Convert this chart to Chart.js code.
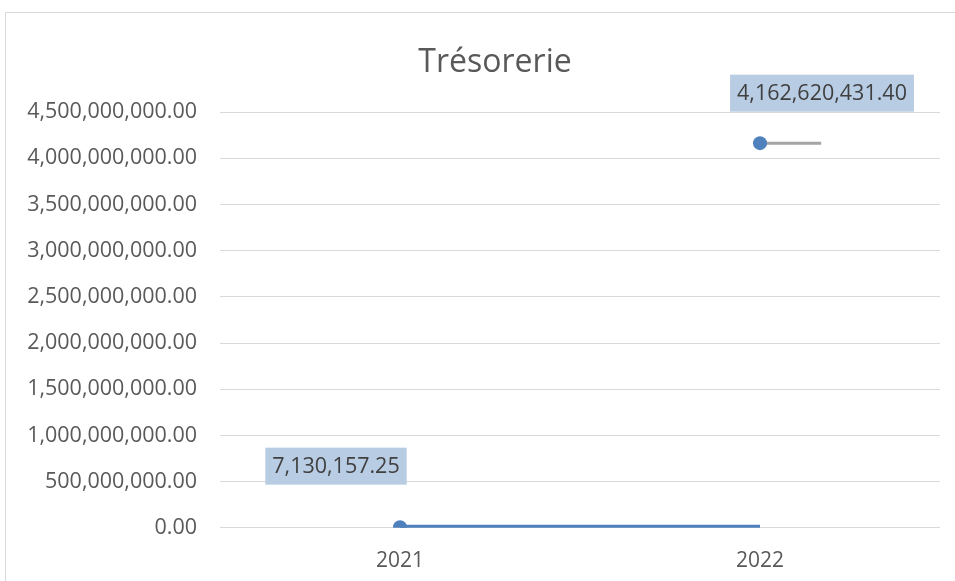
<!DOCTYPE html>
<html>
<head>
<meta charset="utf-8">
<title>Trésorerie</title>
<script src="https://cdn.jsdelivr.net/npm/chart.js"></script>
<style>
  html, body { margin: 0; padding: 0; background: #fff; overflow: hidden; width: 955px; height: 581px; }
  #cadre { position: absolute; left: 5px; top: 12px; width: 1000px; height: 600px; border: 1px solid #d9d9d9; }
  #graphe { position: absolute; left: 0; top: 0; }
  #titre { position: absolute; left: 0; top: 41px; width: 990px; text-align: center;
           font: 32px/38px "Open Sans", sans-serif; color: #595959; z-index: 2; }
</style>
</head>
<body>
<div id="cadre"></div>
<canvas id="graphe" width="955" height="603"></canvas>
<div id="titre">Trésorerie</div>
<script>
// données
const annees = [2021, 2022];
const tresorerieBas = [7130157.25, 7130157.25];
const tresorerieHaut = [4162620431.40];
const repereHaut = [2022, 2022.17];
const etiquettes = ['7,130,157.25', '4,162,620,431.40'];

const bleu = '#4f81bd';
const police = '"Open Sans", sans-serif';
const fmt = v => v.toLocaleString('en-US', { minimumFractionDigits: 2, maximumFractionDigits: 2 });

// étiquettes de données façon Excel
const etiquettesPlugin = {
  id: 'etiquettes',
  afterDatasetsDraw(chart) {
    const ctx = chart.ctx;
    const cibles = [
      { ds: 0, i: 0, texte: etiquettes[0], dx: -64, dy: -61 },
      { ds: 1, i: 0, texte: etiquettes[1], dx: 62, dy: -50 }
    ];
    ctx.save();
    ctx.font = '21.5px ' + police;
    ctx.textAlign = 'center';
    ctx.textBaseline = 'middle';
    for (const c of cibles) {
      const pt = chart.getDatasetMeta(c.ds).data[c.i];
      const x = pt.x + c.dx, y = pt.y + c.dy;
      const w = ctx.measureText(c.texte).width + 14;
      ctx.fillStyle = '#b8cce4';
      ctx.fillRect(x - w / 2, y - 18.5, w, 37);
      ctx.fillStyle = '#404040';
      ctx.fillText(c.texte, x, y + 1);
    }
    ctx.restore();
  }
};

new Chart(document.getElementById('graphe'), {
  type: 'line',
  data: {
    datasets: [
      {
        label: 'Trésorerie',
        data: annees.map((a, i) => ({ x: a, y: tresorerieBas[i] })),
        borderColor: bleu,
        backgroundColor: bleu,
        borderWidth: 5,
        pointRadius: [7, 0],
        pointHoverRadius: [7, 0],
        pointBorderWidth: 0
      },
      {
        label: 'Trésorerie 2022',
        data: repereHaut.map(a => ({ x: a, y: tresorerieHaut[0] })),
        borderColor: '#a5a5a5',
        backgroundColor: bleu,
        borderWidth: 3,
        pointRadius: [7, 0],
        pointBorderWidth: 0,
        order: -1
      }
    ]
  },
  options: {
    responsive: false,
    animation: false,
    layout: { padding: { left: 0, right: 15, top: 112, bottom: 8 } },
    plugins: {
      legend: { display: false },
      tooltip: { enabled: false },
      title: { display: false }
    },
    scales: {
      x: {
        type: 'linear',
        min: 2020.5,
        max: 2022.5,
        afterBuildTicks: s => { s.ticks = annees.map(v => ({ value: v })); },
        grid: { display: false, drawTicks: false },
        border: { display: false },
        ticks: {
          callback: v => String(v),
          color: '#595959',
          font: { family: police, size: 21 },
          padding: 21,
          maxRotation: 0
        }
      },
      y: {
        min: 0,
        max: 4500000000,
        afterFit: s => { s.width = 220; },
        grid: { color: '#d9d9d9', lineWidth: 1, drawTicks: false },
        border: { display: false },
        ticks: {
          stepSize: 500000000,
          callback: v => fmt(v),
          color: '#595959',
          font: { family: police, size: 21.5 },
          padding: 23
        }
      }
    }
  },
  plugins: [etiquettesPlugin]
});
</script>
</body>
</html>
